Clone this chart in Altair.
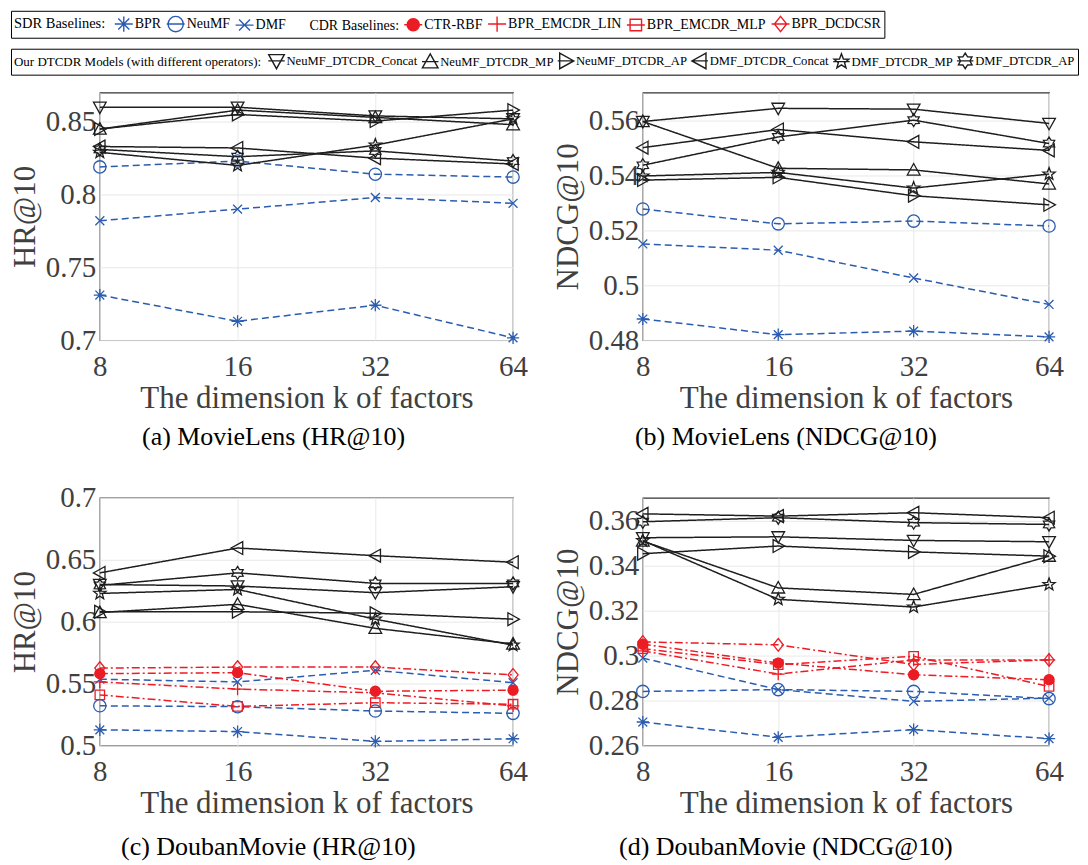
import math
import altair as alt
import pandas as pd

K = [8, 16, 32, 64]

SDR = ["BPR", "NeuMF", "DMF"]
CDR = ["CTR-RBF", "BPR_EMCDR_LIN", "BPR_EMCDR_MLP", "BPR_DCDCSR"]
DTCDR = ["NeuMF_DTCDR_Concat", "NeuMF_DTCDR_MP", "NeuMF_DTCDR_AP",
         "DMF_DTCDR_Concat", "DMF_DTCDR_MP", "DMF_DTCDR_AP"]

# (a) MovieLens HR@10
ML_HR = {
    "BPR": [0.731, 0.713, 0.724, 0.7016],
    "NeuMF": [0.819, 0.823, 0.814, 0.812],
    "DMF": [0.782, 0.790, 0.798, 0.794],
    "NeuMF_DTCDR_Concat": [0.860, 0.860, 0.854, 0.852],
    "NeuMF_DTCDR_MP": [0.845, 0.858, 0.853, 0.848],
    "NeuMF_DTCDR_AP": [0.845, 0.855, 0.8505, 0.858],
    "DMF_DTCDR_Concat": [0.833, 0.832, 0.825, 0.821],
    "DMF_DTCDR_MP": [0.829, 0.820, 0.834, 0.852],
    "DMF_DTCDR_AP": [0.831, 0.826, 0.830, 0.823],
}

# (b) MovieLens NDCG@10
ML_NDCG = {
    "BPR": [0.4877, 0.482, 0.4833, 0.4812],
    "NeuMF": [0.5277, 0.5223, 0.5233, 0.5215],
    "DMF": [0.515, 0.5127, 0.5026, 0.493],
    "NeuMF_DTCDR_Concat": [0.5595, 0.5643, 0.564, 0.5588],
    "NeuMF_DTCDR_MP": [0.5595, 0.5425, 0.5419, 0.5368],
    "NeuMF_DTCDR_AP": [0.5382, 0.5392, 0.5325, 0.5292],
    "DMF_DTCDR_Concat": [0.550, 0.5566, 0.5521, 0.549],
    "DMF_DTCDR_MP": [0.5397, 0.541, 0.5353, 0.5404],
    "DMF_DTCDR_AP": [0.5436, 0.5539, 0.560, 0.5515],
}

# (c) DoubanMovie HR@10
DB_HR = {
    "BPR": [0.5126, 0.5112, 0.5032, 0.5054],
    "NeuMF": [0.532, 0.5313, 0.5278, 0.5259],
    "DMF": [0.5535, 0.5513, 0.5607, 0.5507],
    "CTR-RBF": [0.558, 0.5588, 0.5438, 0.5446],
    "BPR_EMCDR_LIN": [0.5513, 0.5455, 0.5425, 0.532],
    "BPR_EMCDR_MLP": [0.5408, 0.5315, 0.5345, 0.5333],
    "BPR_DCDCSR": [0.5625, 0.5633, 0.5633, 0.557],
    "NeuMF_DTCDR_Concat": [0.630, 0.6288, 0.6234, 0.6282],
    "NeuMF_DTCDR_MP": [0.6074, 0.614, 0.5946, 0.582],
    "NeuMF_DTCDR_AP": [0.608, 0.608, 0.6068, 0.602],
    "DMF_DTCDR_Concat": [0.6394, 0.6595, 0.6533, 0.648],
    "DMF_DTCDR_MP": [0.6228, 0.626, 0.602, 0.581],
    "DMF_DTCDR_AP": [0.6293, 0.6394, 0.6309, 0.6309],
}

# (d) DoubanMovie NDCG@10
DB_NDCG = {
    "BPR": [0.2704, 0.2636, 0.267, 0.263],
    "NeuMF": [0.284, 0.2848, 0.284, 0.2808],
    "DMF": [0.2988, 0.2848, 0.2796, 0.281],
    "CTR-RBF": [0.305, 0.2966, 0.2914, 0.2892],
    "BPR_EMCDR_LIN": [0.302, 0.2917, 0.298, 0.298],
    "BPR_EMCDR_MLP": [0.303, 0.2959, 0.2996, 0.2862],
    "BPR_DCDCSR": [0.306, 0.3047, 0.296, 0.298],
    "NeuMF_DTCDR_Concat": [0.3523, 0.3527, 0.3511, 0.3505],
    "NeuMF_DTCDR_MP": [0.3508, 0.330, 0.3271, 0.3441],
    "NeuMF_DTCDR_AP": [0.3452, 0.3486, 0.346, 0.3441],
    "DMF_DTCDR_Concat": [0.3629, 0.3619, 0.3634, 0.3612],
    "DMF_DTCDR_MP": [0.351, 0.3249, 0.3215, 0.3315],
    "DMF_DTCDR_AP": [0.3594, 0.3612, 0.359, 0.3582],
}

YDOM_A, YTICKS_A = [0.7, 0.87], [0.7, 0.75, 0.8, 0.85]
YDOM_B, YTICKS_B = [0.48, 0.57], [0.48, 0.5, 0.52, 0.54, 0.56]
YDOM_C, YTICKS_C = [0.5, 0.7], [0.5, 0.55, 0.6, 0.65, 0.7]
YDOM_D, YTICKS_D = [0.26, 0.37], [0.26, 0.28, 0.3, 0.32, 0.34, 0.36]

FONT = "Liberation Serif"
BLUE = "#2a5cb0"
RED = "#ec1c24"
BLACK = "#1e1e1e"
AXC = "#404040"


# ---------- marker paths (style only) ----------
def f(v):
    return f"{v:.3f}"


def poly(pts):
    return "M" + "L".join(f"{f(x)},{f(y)}" for x, y in pts) + "Z"


def circle(r):
    return f"M{f(r)},0A{f(r)},{f(r)} 0 1,1 {f(-r)},0A{f(r)},{f(r)} 0 1,1 {f(r)},0Z"


def star(n, ro, ri):
    pts = []
    for i in range(2 * n):
        a = -math.pi / 2 + i * math.pi / n
        rr = ro if i % 2 == 0 else ri
        pts.append((rr * math.cos(a), rr * math.sin(a)))
    return poly(pts)


def asterisk(r):
    d = r * 0.72
    return (f"M0,{f(-r)}L0,{f(r)}M{f(-r)},0L{f(r)},0"
            f"M{f(-d)},{f(-d)}L{f(d)},{f(d)}M{f(-d)},{f(d)}L{f(d)},{f(-d)}")


def xmark(r):
    d = r * 0.72
    return f"M{f(-d)},{f(-d)}L{f(d)},{f(d)}M{f(-d)},{f(d)}L{f(d)},{f(-d)}"


def plus(r):
    return f"M{f(-r)},0L{f(r)},0M0,{f(-r)}L0,{f(r)}"


def square(r):
    return poly([(-r, -r), (r, -r), (r, r), (-r, r)])


def diamond(r):
    return poly([(0, -r), (r * 0.8, 0), (0, r), (-r * 0.8, 0)])


def tri(r, d):
    if d == "down":
        return poly([(-r, -r * 0.8), (r, -r * 0.8), (0, r)])
    if d == "up":
        return poly([(0, -r), (r, r * 0.8), (-r, r * 0.8)])
    if d == "right":
        return poly([(-r * 0.8, -r), (r, 0), (-r * 0.8, r)])
    return poly([(r * 0.8, -r), (-r, 0), (r * 0.8, r)])


MARK = {
    "BPR": lambda r: asterisk(r),
    "NeuMF": lambda r: circle(r),
    "DMF": lambda r: xmark(r),
    "CTR-RBF": lambda r: circle(r * 0.8),
    "BPR_EMCDR_LIN": lambda r: plus(r),
    "BPR_EMCDR_MLP": lambda r: square(r * 0.75),
    "BPR_DCDCSR": lambda r: diamond(r),
    "NeuMF_DTCDR_Concat": lambda r: tri(r, "down"),
    "NeuMF_DTCDR_MP": lambda r: tri(r, "up"),
    "NeuMF_DTCDR_AP": lambda r: tri(r, "right"),
    "DMF_DTCDR_Concat": lambda r: tri(r, "left"),
    "DMF_DTCDR_MP": lambda r: star(5, r, r * 0.42),
    "DMF_DTCDR_AP": lambda r: star(6, r, r * 0.6),
}

SERIES = SDR + CDR + DTCDR
COLORS = [BLUE] * 3 + [RED] * 4 + [BLACK] * 6
DASHES = [[7, 4]] * 3 + [[8, 3, 2, 3]] * 4 + [[1, 0]] * 6
WIDTHS = [1.5] * 3 + [1.4] * 4 + [1.6] * 6
SHAPES = [MARK[s](1.0) for s in SERIES]
SIZES = [150, 170, 160, 130, 150, 170, 180, 250, 250, 250, 250, 215, 215]


def long(d):
    rows = []
    for s, vals in d.items():
        for k, v in zip(K, vals):
            rows.append({"k": k, "value": v, "series": s})
    return pd.DataFrame(rows)


def sc(rng):
    return alt.Scale(domain=SERIES, range=rng)


IND = dict(shape="independent", color="independent", fill="independent",
           stroke="independent", size="independent", strokeDash="independent",
           strokeWidth="independent")


def legend_layers():
    leg1 = ["BPR", "NeuMF", "DMF", "CDR Baselines:", "CTR-RBF",
            "BPR_EMCDR_LIN", "BPR_EMCDR_MLP", "BPR_DCDCSR"]
    shapes1, strokes1, fills1 = [], [], []
    for e in leg1:
        if e in MARK:
            shapes1.append(MARK[e](0.85) + "M-1,0L1,0")
            strokes1.append(BLUE if e in SDR else RED)
            fills1.append(RED if e == "CTR-RBF" else "transparent")
        else:
            shapes1.append("M0,0")
            strokes1.append("transparent")
            fills1.append("transparent")
    common = dict(orient="none", direction="horizontal", labelFont=FONT,
                  titleFont=FONT, titleFontWeight="normal", labelColor="black",
                  titleColor="black", strokeColor="black", fillColor="white",
                  titleOrient="left", symbolOpacity=1, symbolStrokeWidth=1.4,
                  labelOffset=1, titleBaseline="middle",
                  titleLimit=600, labelLimit=300)
    L1 = alt.Legend(title="SDR Baselines:", legendX=-89, legendY=-82, columns=8,
                    symbolSize=324, labelFontSize=14, titleFontSize=14.5,
                    columnPadding=2, padding=3, titlePadding=8, **common)
    df1 = pd.DataFrame({"e1": leg1})
    lg1 = alt.Chart(df1).mark_point(opacity=0, filled=False).encode(
        shape=alt.Shape("e1:N", scale=alt.Scale(domain=leg1, range=shapes1), legend=L1),
        stroke=alt.Stroke("e1:N", scale=alt.Scale(domain=leg1, range=strokes1), legend=L1),
        fill=alt.Fill("e1:N", scale=alt.Scale(domain=leg1, range=fills1), legend=L1),
    )
    leg2 = DTCDR
    shapes2 = [MARK[e](0.95) + "M-1,0L1,0" for e in leg2]
    L2 = alt.Legend(title="Our DTCDR Models (with different operators):",
                    legendX=-89, legendY=-44, columns=6, symbolSize=272,
                    labelFontSize=12.7, titleFontSize=13, columnPadding=0,
                    padding=3, titlePadding=6, **common)
    df2 = pd.DataFrame({"e2": leg2})
    lg2 = alt.Chart(df2).mark_point(opacity=0, filled=False).encode(
        shape=alt.Shape("e2:N", scale=alt.Scale(domain=leg2, range=shapes2), legend=L2),
        stroke=alt.Stroke("e2:N", scale=alt.Scale(domain=leg2, range=[BLACK] * 6), legend=L2),
    )
    return [lg1, lg2]


def panel(d, ydom, yticks, ytitle, caption, width, cap_anchor, cap_dx, cap_off, extra=()):
    df = long(d)
    base = alt.Chart(df).encode(
        x=alt.X("k:Q", scale=alt.Scale(type="log", base=2, domain=[8, 64], nice=False),
                axis=alt.Axis(values=K, format="d", title="The dimension k of factors",
                              labelFlush=False)),
        y=alt.Y("value:Q", scale=alt.Scale(domain=ydom, nice=False, zero=False),
                axis=alt.Axis(values=yticks, format="~g", title=ytitle)),
    )
    lines = base.mark_line().encode(
        color=alt.Color("series:N", scale=sc(COLORS), legend=None),
        strokeDash=alt.StrokeDash("series:N", scale=sc(DASHES), legend=None),
        strokeWidth=alt.StrokeWidth("series:N", scale=sc(WIDTHS), legend=None),
    )
    pts = base.mark_point(filled=False, strokeWidth=1.3, opacity=1).encode(
        shape=alt.Shape("series:N", scale=sc(SHAPES), legend=None),
        color=alt.Color("series:N", scale=sc(COLORS), legend=None),
        size=alt.Size("series:N", scale=sc(SIZES), legend=None),
    )
    filled = base.transform_filter(alt.datum.series == "CTR-RBF").mark_point(
        filled=True, opacity=1, color=RED, size=110, shape=circle(1.0))
    layers = [lines, pts]
    if "CTR-RBF" in d:
        layers.append(filled)
    layers += list(extra)
    return alt.layer(*layers).properties(
        width=width, height=248,
        title=alt.TitleParams(caption, orient="bottom", frame="bounds", anchor=cap_anchor,
                              font=FONT, fontSize=26, fontWeight="normal",
                              color="black", offset=cap_off, dx=cap_dx),
    ).resolve_scale(**IND)


pa = panel(ML_HR, YDOM_A, YTICKS_A, "HR@10", "(a) MovieLens (HR@10)", 414, "start", 133, 11,
           legend_layers())
pb = panel(ML_NDCG, YDOM_B, YTICKS_B, "NDCG@10", "(b) MovieLens (NDCG@10)", 407, "middle", -22, 11)
pc = panel(DB_HR, YDOM_C, YTICKS_C, "HR@10", "(c) DoubanMovie (HR@10)", 414, "middle", 0, 16)
pd_ = panel(DB_NDCG, YDOM_D, YTICKS_D, "NDCG@10", "(d) DoubanMovie (NDCG@10)", 407, "middle", -22, 16)

chart = alt.concat(pa, pb, pc, pd_, columns=2, spacing={"row": 158, "column": 130},
                   bounds="flush").resolve_scale(**IND).properties(
    padding=0
).configure_view(
    stroke="#333333", strokeWidth=1.2
).configure_axis(
    labelFont=FONT, labelFontSize=29, labelColor=AXC,
    titleFont=FONT, titleFontSize=31, titleFontWeight="normal", titleColor=AXC,
    grid=True, gridColor="#e8e8e8", gridWidth=1, ticks=False, domain=False,
    labelOverlap=False,
).configure_axisX(
    labelPadding=12, titlePadding=2
).configure_axisY(
    labelPadding=4, titlePadding=4
)

chart.save("out.html", embed_options={"renderer": "svg", "actions": False})
